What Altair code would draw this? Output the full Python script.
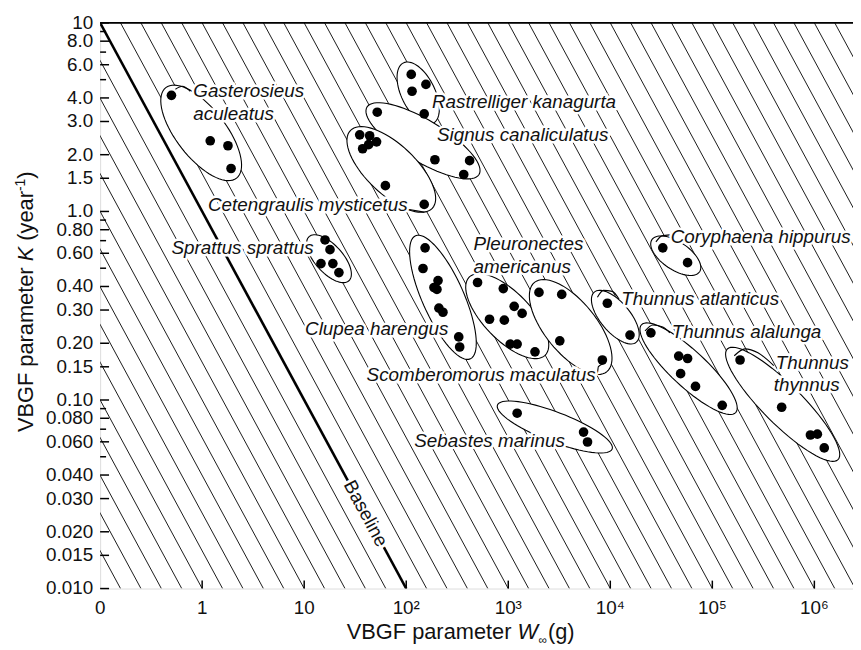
import math
import altair as alt
import pandas as pd

FONT = "Liberation Sans"

# ---------------- data ----------------
gast_W = [0.50, 1.20, 1.79, 1.92]
gast_K = [4.13, 2.37, 2.23, 1.69]
rast_W = [112, 156, 114, 150]
rast_K = [5.33, 4.72, 4.34, 3.29]
sign_W = [52, 191, 418, 366]
sign_K = [3.36, 1.88, 1.86, 1.57]
cete_W = [35, 43.8, 51.2, 37.4, 42.8, 62.5, 150]
cete_K = [2.55, 2.52, 2.34, 2.15, 2.26, 1.37, 1.09]
spra_W = [16.0, 17.9, 14.6, 19.1, 21.9]
spra_K = [0.706, 0.627, 0.529, 0.529, 0.474]
clup_W = [153, 146, 205, 187, 200, 209, 229, 327, 334]
clup_K = [0.641, 0.498, 0.43, 0.395, 0.386, 0.307, 0.292, 0.216, 0.191]
pleu_W = [500, 894, 1143, 1367, 655, 915, 1045, 1222, 1828]
pleu_K = [0.42, 0.39, 0.314, 0.288, 0.268, 0.265, 0.198, 0.198, 0.18]
scom_W = [2000, 3343, 3199, 8360]
scom_K = [0.372, 0.363, 0.206, 0.163]
seba_W = [1222, 5470, 5980]
seba_K = [0.0851, 0.0676, 0.0599]
cory_W = [32700, 57200]
cory_K = [0.641, 0.535]
tatl_W = [9360, 15600]
tatl_K = [0.326, 0.221]
tala_W = [25000, 46800, 57200, 48900, 68400, 125000]
tala_K = [0.227, 0.171, 0.166, 0.138, 0.118, 0.0937]
tthy_W = [187000, 478000, 915000, 1070000, 1250000]
tthy_K = [0.163, 0.0915, 0.0652, 0.0659, 0.0557]

groups = {
    "gast": (gast_W, gast_K), "rast": (rast_W, rast_K), "sign": (sign_W, sign_K),
    "cete": (cete_W, cete_K), "spra": (spra_W, spra_K), "clup": (clup_W, clup_K),
    "pleu": (pleu_W, pleu_K), "scom": (scom_W, scom_K), "seba": (seba_W, seba_K),
    "cory": (cory_W, cory_K), "tatl": (tatl_W, tatl_K), "tala": (tala_W, tala_K),
    "tthy": (tthy_W, tthy_K),
}

# enclosing ellipses: group, centre W, centre K, semi-axes (px), tilt (deg)
ell_group = ["gast", "rast", "sign", "cete", "spra", "clup", "pleu", "scom", "seba", "cory", "tatl", "tala", "tthy"]
ell_W = [0.978, 131, 146, 71.4, 17.5, 229, 977, 4090, 2860, 43800, 11200, 58500, 489000]
ell_K = [2.61, 4.24, 2.37, 1.67, 0.5615, 0.3504, 0.2785, 0.2438, 0.0719, 0.5824, 0.2751, 0.1466, 0.0949]
ell_a = [58, 34, 66, 57, 30, 68, 55, 58, 62, 29, 33, 65, 79]
ell_b = [25, 17, 21, 25, 14, 21, 24, 26, 15, 14, 15, 18, 20]
ell_ang = [52, 64, 31, 43.5, 48, 66, 46, 51, 21, 34, 50, 43, 45]

# leader strokes joining ellipses and names (W, K vertices)
lead_id = ["gast"] * 3 + ["cete"] * 2 + ["scom"] * 4 + ["cory"] * 3 + ["tatl"] * 4 + ["tala"] * 4 + ["tthy"] * 4
lead_W = [0.547, 0.640, 0.765,
          100, 150,
          6680, 7480, 7640, 8550,
          28000, 32000, 38300,
          7480, 8550, 10450, 12200,
          21900, 26100, 32700, 38300,
          164000, 209000, 280000, 400000]
lead_K = [4.45, 4.61, 4.34,
          1.03, 0.992,
          0.1315, 0.1397, 0.1502, 0.1558,
          0.690, 0.742, 0.751,
          0.3504, 0.3814, 0.3769, 0.342,
          0.2323, 0.2497, 0.2438, 0.2267,
          0.1717, 0.1868, 0.1780, 0.1521]

# species labels
lab_text = ["Gasterosieus", "aculeatus", "Rastrelliger kanagurta", "Signus canaliculatus",
            "Cetengraulis mysticetus", "Sprattus sprattus", "Clupea harengus", "Pleuronectes",
            "americanus", "Scomberomorus maculatus", "Sebastes marinus", "Coryphaena hippurus",
            "Thunnus atlanticus", "Thunnus alalunga", "Thunnus", "thynnus"]
lab_W = [0.818, 0.818, 179, 200, 1.14, 0.50, 10.2, 457, 457, 40.9, 120, 39100, 12800, 40000, 418000, 400000]
lab_K = [4.34, 3.29, 3.80, 2.55, 1.08, 0.642, 0.238, 0.674, 0.510, 0.1348, 0.0607, 0.733, 0.342, 0.2294, 0.1577, 0.1194]

# baseline  K * W = 1
base_W = [0.1, 100]
base_K = [10, 0.01]
hatch_c = [round(-2.8 + 0.2 * k, 1) for k in range(51)]

x_ticks = [0.1, 1, 10, 100, 1000, 1e4, 1e5, 1e6]
x_labels = ["0", "1", "10", "10²", "10³", "10⁴", "10⁵", "10⁶"]
y_ticks = [10, 8, 6, 4, 3, 2, 1.5, 1, 0.8, 0.6, 0.4, 0.3, 0.2, 0.15, 0.1, 0.08, 0.06, 0.04, 0.03, 0.02, 0.015, 0.01]
y_labels = ["10", "8.0", "6.0", "4.0", "3.0", "2.0", "1.5", "1.0", "0.80", "0.60", "0.40", "0.30", "0.20", "0.15",
            "0.10", "0.080", "0.060", "0.040", "0.030", "0.020", "0.015", "0.010"]
y_minor = [9, 7, 5, 0.9, 0.7, 0.5, 0.09, 0.07, 0.05]

# ---------------- layout ----------------
W_PLOT = 760
H_PLOT = 571
PX_PER_DEC_X = 103.0
XMIN = 0.1
XMAX = 10 ** (math.log10(XMIN) + W_PLOT / PX_PER_DEC_X)
PX_PER_DEC_Y = H_PLOT / 3.0

xs = alt.Scale(type="log", domain=[XMIN, XMAX], nice=False)
ys = alt.Scale(type="log", domain=[0.01, 10], nice=False)

x_axis = alt.Axis(labels=False, ticks=False, grid=False, domainColor="black", domainWidth=2, title=None)
y_axis = alt.Axis(labels=False, ticks=False, grid=False, domainColor="black", domainWidth=2, title=None)

# ---------------- tables ----------------
pts = pd.DataFrame([{"g": g, "W": w, "K": k} for g, (wl, kl) in groups.items() for w, k in zip(wl, kl)])

hatch = pd.DataFrame([r for c in hatch_c if abs(c) > 1e-9 for r in (
    {"c": c, "i": 0, "W": 10 ** (c - 1), "K": 10.0},
    {"c": c, "i": 1, "W": 10 ** (c + 2), "K": 0.01})])

base = pd.DataFrame({"W": base_W, "K": base_K, "i": [0, 1]})

ell_rows = []
for g, wc, kc, a, b, ang in zip(ell_group, ell_W, ell_K, ell_a, ell_b, ell_ang):
    th = math.radians(ang)
    for i in range(73):
        t = 2 * math.pi * i / 72
        dx = a * math.cos(t) * math.cos(th) - b * math.sin(t) * math.sin(th)
        dy = a * math.cos(t) * math.sin(th) + b * math.sin(t) * math.cos(th)
        ell_rows.append({"g": g, "i": i,
                         "W": 10 ** (math.log10(wc) + dx / PX_PER_DEC_X),
                         "K": 10 ** (math.log10(kc) - dy / PX_PER_DEC_Y)})
ells = pd.DataFrame(ell_rows)

leads = pd.DataFrame({"g": lead_id, "W": lead_W, "K": lead_K, "i": list(range(len(lead_id)))})

labs = pd.DataFrame({"t": lab_text, "W": lab_W, "K": lab_K})
yt_major = pd.DataFrame({"v": y_ticks, "t": y_labels})
yt_minor = pd.DataFrame({"v": y_minor})
xt = pd.DataFrame({"v": x_ticks, "t": x_labels})

X = lambda f="W": alt.X(f"{f}:Q", scale=xs, axis=None)
Y = lambda f="K": alt.Y(f"{f}:Q", scale=ys, axis=None)

hatch_layer = alt.Chart(hatch).mark_line(color="#1a1a1a", strokeWidth=1.0, clip=True).encode(
    x=alt.X("W:Q", scale=xs, axis=x_axis), y=alt.Y("K:Q", scale=ys, axis=y_axis),
    detail="c:N", order="i:Q")

base_layer = alt.Chart(base).mark_line(color="black", strokeWidth=2.6, clip=True).encode(
    x=X(), y=Y(), order="i:Q")

ell_layer = alt.Chart(ells).mark_line(fill="white", stroke="black", strokeWidth=1.1).encode(
    x=X(), y=Y(), detail="g:N", order="i:Q")

lead_layer = alt.Chart(leads).mark_line(stroke="black", strokeWidth=1.1, interpolate="monotone").encode(
    x=X(), y=Y(), detail="g:N", order="i:Q")

pt_layer = alt.Chart(pts).mark_circle(size=95, color="black", opacity=1).encode(x=X(), y=Y())

txt_kw = dict(font=FONT, fontSize=19, fontStyle="italic", align="left", baseline="middle")
halo = alt.Chart(labs).mark_text(color="white", stroke="white", strokeWidth=5, **txt_kw).encode(
    x=X(), y=Y(), text="t:N")
txt = alt.Chart(labs).mark_text(color="#111", **txt_kw).encode(x=X(), y=Y(), text="t:N")

bl = pd.DataFrame({"t": ["Baseline"], "W": [40.0], "K": [0.025]})
bl_kw = dict(font=FONT, fontSize=19, angle=61.6, align="center", baseline="middle")
bl_halo = alt.Chart(bl).mark_text(color="white", stroke="white", strokeWidth=6, **bl_kw).encode(
    x=X(), y=Y(), text="t:N")
bl_txt = alt.Chart(bl).mark_text(color="#111", **bl_kw).encode(x=X(), y=Y(), text="t:N")

ytick_major = alt.Chart(yt_major).mark_rule(color="black", strokeWidth=1.5).encode(
    y=Y("v"), x=alt.value(0), x2=alt.value(9))
ytick_minor = alt.Chart(yt_minor).mark_rule(color="black", strokeWidth=1.5).encode(
    y=Y("v"), x=alt.value(0), x2=alt.value(6))
xtick = alt.Chart(xt[xt.v > 0.5]).mark_rule(color="black", strokeWidth=1.5).encode(
    x=X("v"), y=alt.value(H_PLOT), y2=alt.value(H_PLOT - 8))
ylab = alt.Chart(yt_major).mark_text(font=FONT, fontSize=19, color="#111", align="right", baseline="middle").encode(
    y=Y("v"), x=alt.value(-7), text="t:N")
xlab = alt.Chart(xt).mark_text(font=FONT, fontSize=19, color="#111", align="center", baseline="alphabetic").encode(
    x=X("v"), y=alt.value(H_PLOT + 26), text="t:N")
top_border = alt.Chart(alt.Data(values=[{}])).mark_rule(color="black", strokeWidth=1.6).encode(
    x=alt.value(0), x2=alt.value(W_PLOT), y=alt.value(0))


def piece(text, x, y, size=22, style="normal", angle=0, align="left"):
    kw = dict(font=FONT, fontSize=size, fontStyle=style, align=align, baseline="alphabetic", color="#111")
    if angle:
        kw["angle"] = angle
    return alt.Chart(alt.Data(values=[{}])).mark_text(**kw).encode(
        x=alt.value(x), y=alt.value(y), text=alt.value(text))


# y-axis title (rotated), read bottom to top
YT_X = -68
titles = [
    piece("VBGF parameter", YT_X, 413, angle=270),
    piece("K", YT_X, 240.6, style="italic", angle=270),
    piece("(year", YT_X, 219.8, angle=270),
    piece("-1", YT_X - 8, 169.7, size=14, angle=270),
    piece(")", YT_X, 157.3, angle=270),
    # x-axis title
    piece("VBGF parameter", 249, 622),
    piece("W", 421.4, 622, style="italic"),
    piece("∞", 442.5, 627, size=12),
    piece("(g)", 452, 622),
]

chart = alt.layer(
    hatch_layer, base_layer, ell_layer, lead_layer, pt_layer, halo, txt, bl_halo, bl_txt,
    ytick_major, ytick_minor, xtick, ylab, xlab, top_border, *titles
).properties(
    width=W_PLOT, height=H_PLOT,
    autosize=alt.AutoSizeParams(type="none"),
    padding={"left": 93, "top": 12, "right": 0, "bottom": 60},
).configure_view(stroke=None).configure(background="white")

chart.save("out.html", embed_options={"renderer": "svg", "actions": False})
